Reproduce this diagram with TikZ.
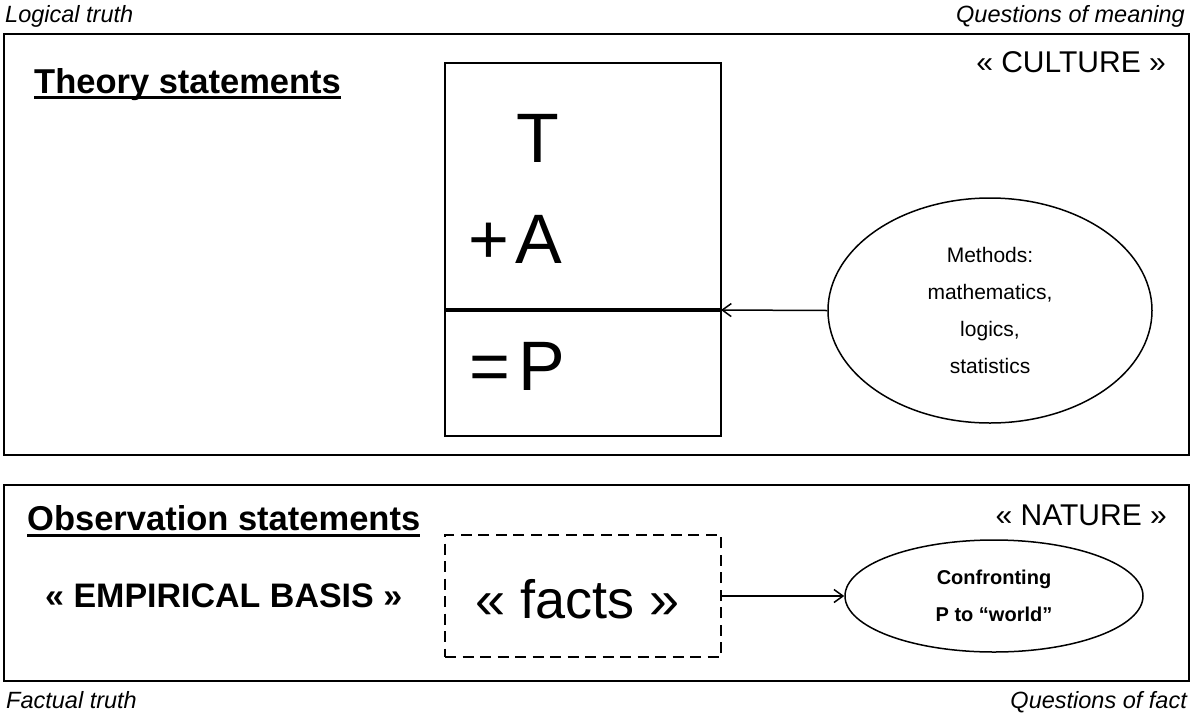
\documentclass[tikz,border=0pt]{standalone}
\usepackage{fontspec}
\setmainfont{Liberation Sans}
\usetikzlibrary{arrows.meta,shapes.geometric}
\begin{document}
\begin{tikzpicture}[x=1pt,y=-1pt,
  frame/.style={draw, line width=2.6pt, rectangle, inner sep=0pt},
  tapbox/.style={draw, line width=2.2pt, rectangle, inner sep=0pt},
  factbox/.style={draw, line width=2pt, dash pattern=on 11pt off 6.5pt, rectangle, inner sep=0pt},
  oval/.style={draw, line width=1.5pt, ellipse, inner sep=0pt, align=center},
  corner/.style={inner sep=0pt, font=\fontsize{23.5}{28}\selectfont\itshape},
  heading/.style={inner sep=0pt, font=\fontsize{34.5}{40}\selectfont\bfseries, anchor=base west},
  realm/.style={inner sep=0pt, font=\fontsize{30}{36}\selectfont, anchor=base east},
  big/.style={inner sep=0pt, font=\fontsize{70}{80}\selectfont},
  arr/.style={line width=1.5pt, -{Straight Barb[length=9pt,width=13pt]}},
  uline/.style={line width=3pt}
]
\useasboundingbox (0,0) rectangle (1192,713);

% corner labels
\node[corner, anchor=base west] (logical) at (5,22) {Logical truth};
\node[corner, anchor=base east] (meaning) at (1185,22) {Questions of meaning};
\node[corner, anchor=base west] (factual) at (6,708) {Factual truth};
\node[corner, anchor=base east] (fact) at (1187,708) {Questions of fact};

% frames
\node[frame, minimum width=1185pt, minimum height=421pt] (culture) at (596.5,244.5) {};
\node[frame, minimum width=1185pt, minimum height=196pt] (nature) at (596.5,583) {};

% headings
\node[heading] (theory) at (34,93) {Theory statements};
\draw[uline] ([yshift=-4.5pt]theory.base west) -- ([yshift=-4.5pt]theory.base east);
\node[heading] (observ) at (27,530) {Observation statements};
\draw[uline] ([yshift=-5pt]observ.base west) -- ([yshift=-5pt]observ.base east);

\node[realm] (cult) at (1166,72) {« CULTURE »};
\node[realm] (nat) at (1167,525) {« NATURE »};

% T + A = P box
\node[tapbox, minimum width=276pt, minimum height=373pt] (tap) at (583,249.5) {};
\coordinate (divL) at (445,310);
\coordinate (divR) at (721,310);
\draw[line width=3.5pt] (divL) -- (divR);
\node[big, anchor=base] (T) at (538,162) {T};
\node[big, anchor=base west] (A) at (468,263) {+\kern6pt A};
\node[big, anchor=base west] (P) at (469,390) {=\kern8pt P};

% methods ellipse
\node[oval, minimum width=324pt, minimum height=225pt,
      font=\fontsize{21}{37}\selectfont] (methods) at (990,310.5)
      {Methods:\\mathematics,\\logics,\\statistics};
\draw[arr] (methods.west) -- (divR);

% empirical basis
\node[inner sep=0pt, font=\fontsize{34}{40}\selectfont\bfseries, anchor=base west] (empir) at (45,607) {« EMPIRICAL BASIS »};

% facts box
\node[factbox, minimum width=276pt, minimum height=122pt] (facts) at (583,596) {};
\node[inner sep=0pt, font=\fontsize{54}{60}\selectfont, anchor=base west] (factstext) at (475,618) {« facts »};

% confronting ellipse
\node[oval, minimum width=298pt, minimum height=112pt,
      font=\fontsize{20}{37}\selectfont\bfseries] (confront) at (994,596)
      {Confronting\\P to “world”};
\draw[arr] (facts.east) -- (confront.west);
\end{tikzpicture}
\end{document}
